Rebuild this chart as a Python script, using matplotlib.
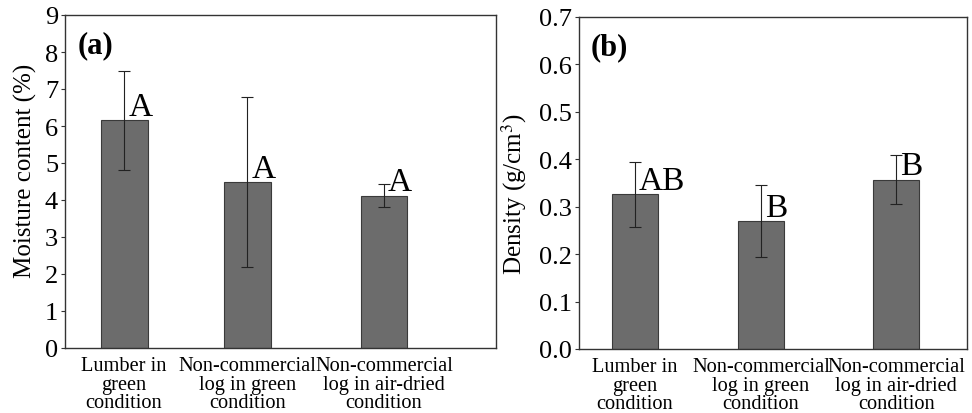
import numpy as np
import matplotlib
matplotlib.use('Agg')
import matplotlib.pyplot as plt

plt.rcParams['font.family'] = ['Liberation Serif', 'DejaVu Serif']
plt.rcParams['mathtext.fontset'] = 'stix'

categories = ['Lumber in\ngreen\ncondition',
              'Non-commercial\nlog in green\ncondition',
              'Non-commercial\nlog in air-dried\ncondition']

moisture = [6.15, 4.48, 4.12]
moisture_err = [1.33, 2.30, 0.31]
moisture_letters = ['A', 'A', 'A']

density = [0.326, 0.269, 0.357]
density_err = [0.068, 0.076, 0.051]
density_letters = ['AB', 'B', 'B']

bar_color = '#6c6c6c'
edge_color = '#3a3a3a'

fig = plt.figure(figsize=(9.72, 4.14), dpi=100)
ax1 = fig.add_axes([65 / 972, 1 - 349 / 414, 431 / 972, 333 / 414])
ax2 = fig.add_axes([579 / 972, 1 - 350 / 414, 388 / 972, 332 / 414])


def draw_panel(ax, x, vals, errs, letters, ylim, yticks, fmt, ylabel, tag, xlim, width, lab_xy):
    ax.bar(x, vals, width=width, color=bar_color, edgecolor=edge_color, linewidth=0.8)
    ax.errorbar(x, vals, yerr=errs, fmt='none', ecolor='#222222', elinewidth=0.8, capsize=4, capthick=0.8)
    for xi, v, lab in zip(x, vals, letters):
        ax.annotate(lab, (xi, v), xytext=(3, 4), textcoords='offset points',
                    ha='left', va='baseline', fontsize=24)
    ax.set_ylim(*ylim)
    ax.set_xlim(*xlim)
    ax.set_yticks(yticks)
    ax.set_yticklabels([fmt.format(t) for t in yticks], fontsize=19)
    ax.set_xticks(x)
    ax.set_xticklabels(categories, fontsize=14.7, linespacing=0.95)
    ax.tick_params(axis='y', length=3, width=0.8, pad=2, color='#333333')
    ax.tick_params(axis='x', length=0, pad=6)
    ax.set_ylabel(ylabel, fontsize=18)
    ax.yaxis.set_label_coords(*lab_xy)
    for s in ax.spines.values():
        s.set_color('#333333')
        s.set_linewidth(1.0)
    ax.text(0.03, 0.955, tag, transform=ax.transAxes, fontsize=22, fontweight='bold',
            ha='left', va='top')


draw_panel(ax1, [0, 1, 2.11], moisture, moisture_err, moisture_letters, (0, 9), np.arange(0, 10, 1),
           '{:.0f}', 'Moisture content (%)', '(a)', (-0.48, 3.02), 0.38, (-0.066, 0.535))
draw_panel(ax2, [0, 1, 2.07], density, density_err, density_letters, (0, 0.7), np.arange(0, 0.71, 0.1),
           '{:.1f}', 'Density (g/cm$^3$)', '(b)', (-0.44, 2.63), 0.365, (-0.13, 0.47))

fig.savefig('out.png', dpi=100)
